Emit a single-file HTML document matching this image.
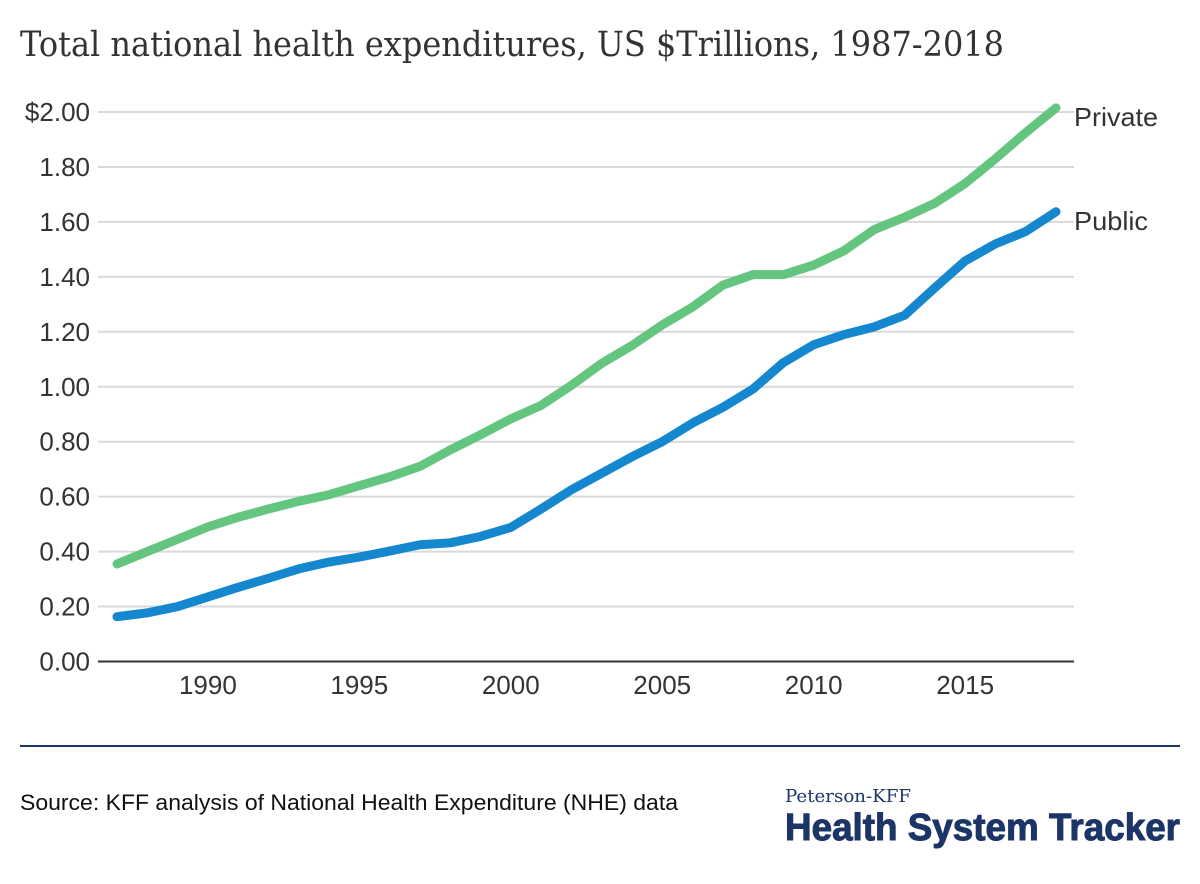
<!DOCTYPE html>
<html lang="en">
<head>
<meta charset="utf-8">
<title>Total national health expenditures</title>
<style>
html,body{margin:0;padding:0;background:#fff;width:1200px;height:884px;overflow:hidden}
svg{display:block}
text{font-family:"Liberation Sans",sans-serif;fill:#333}
</style>
</head>
<body>
<svg id="chart" xmlns="http://www.w3.org/2000/svg" width="1200" height="884" viewBox="0 0 1200 884">
  <text x="20" y="56" textLength="984" lengthAdjust="spacingAndGlyphs" style="font-family:'DejaVu Serif','Liberation Serif',serif;font-size:35px;fill:#333">Total national health expenditures, US $Trillions, 1987-2018</text>
  <g id="grid"></g>
  <g id="yticks"></g>
  <g id="xticks"></g>
  <g id="series"></g>
  <text x="1074" y="126" font-size="26" textLength="84" lengthAdjust="spacingAndGlyphs">Private</text>
  <text x="1074" y="230" font-size="26" textLength="74" lengthAdjust="spacingAndGlyphs">Public</text>
  <rect x="20" y="745" width="1160" height="2" fill="#1b3664"/>
  <text x="20" y="810" font-size="22" textLength="658" lengthAdjust="spacingAndGlyphs" style="fill:#111">Source: KFF analysis of National Health Expenditure (NHE) data</text>
  <text x="785" y="802" textLength="126" lengthAdjust="spacingAndGlyphs" style="font-family:'DejaVu Serif','Liberation Serif',serif;font-size:18px;fill:#1c3567">Peterson-KFF</text>
  <text x="785" y="840" textLength="395" lengthAdjust="spacingAndGlyphs" style="font-size:38px;font-weight:bold;fill:#1c3567;stroke:#1c3567;stroke-width:1px">Health System Tracker</text>
</svg>
<script>
const years = [1987,1988,1989,1990,1991,1992,1993,1994,1995,1996,1997,1998,1999,2000,2001,2002,2003,2004,2005,2006,2007,2008,2009,2010,2011,2012,2013,2014,2015,2016,2017,2018];
const privateValues = [0.355,0.40,0.445,0.49,0.525,0.555,0.583,0.607,0.64,0.672,0.71,0.77,0.825,0.883,0.932,1.005,1.085,1.15,1.225,1.29,1.37,1.408,1.408,1.443,1.495,1.572,1.617,1.668,1.74,1.83,1.925,2.015];
const publicValues = [0.163,0.177,0.20,0.235,0.27,0.303,0.337,0.362,0.38,0.402,0.425,0.432,0.455,0.488,0.555,0.625,0.685,0.745,0.80,0.868,0.925,0.992,1.088,1.153,1.19,1.218,1.26,1.36,1.458,1.52,1.565,1.637];
const yTickValues = [0,0.2,0.4,0.6,0.8,1.0,1.2,1.4,1.6,1.8,2.0];
const yTickLabels = ["0.00","0.20","0.40","0.60","0.80","1.00","1.20","1.40","1.60","1.80","$2.00"];
const xTickYears = [1990,1995,2000,2005,2010,2015];

const NS = "http://www.w3.org/2000/svg";
const xScale = function (year) { return 117 + (year - 1987) * (1056 - 117) / (2018 - 1987); };
const yScale = function (value) { return 661.5 - value * (661.5 - 112) / 2; };

const grid = document.getElementById("grid");
const yticks = document.getElementById("yticks");
const xticks = document.getElementById("xticks");
const series = document.getElementById("series");

yTickValues.forEach(function (value, i) {
  const line = document.createElementNS(NS, "line");
  
  
  line.setAttribute("x1", 98);
  line.setAttribute("x2", 1074);
  line.setAttribute("y1", yScale(value));
  line.setAttribute("y2", yScale(value));
  line.setAttribute("stroke", value === 0 ? "#333333" : "#d9d9d9");
  line.setAttribute("stroke-width", 2);
  grid.appendChild(line);

  const label = document.createElementNS(NS, "text");
  
  
  label.setAttribute("x", 90);
  label.setAttribute("y", yScale(value) + 9);
  label.setAttribute("text-anchor", "end");
  label.setAttribute("font-size", 26);
  label.textContent = yTickLabels[i];
  yticks.appendChild(label);
});

xTickYears.forEach(function (year) {
  const label = document.createElementNS(NS, "text");
  
  
  label.setAttribute("x", xScale(year));
  label.setAttribute("y", 694);
  label.setAttribute("text-anchor", "middle");
  label.setAttribute("font-size", 26);
  label.textContent = year;
  xticks.appendChild(label);
});

function linePoints(values) {
  return values.map(function (value, i) {
    return xScale(years[i]).toFixed(2) + "," + yScale(value).toFixed(2);
  }).join(" ");
}

const privateLine = document.createElementNS(NS, "polyline");


privateLine.setAttribute("points", linePoints(privateValues));
privateLine.setAttribute("fill", "none");
privateLine.setAttribute("stroke", "#64c57f");
privateLine.setAttribute("stroke-width", 9);
privateLine.setAttribute("stroke-linecap", "round");
privateLine.setAttribute("stroke-linejoin", "round");
series.appendChild(privateLine);

const publicLine = document.createElementNS(NS, "polyline");


publicLine.setAttribute("points", linePoints(publicValues));
publicLine.setAttribute("fill", "none");
publicLine.setAttribute("stroke", "#1487cf");
publicLine.setAttribute("stroke-width", 9);
publicLine.setAttribute("stroke-linecap", "round");
publicLine.setAttribute("stroke-linejoin", "round");
series.appendChild(publicLine);
</script>
</body>
</html>
